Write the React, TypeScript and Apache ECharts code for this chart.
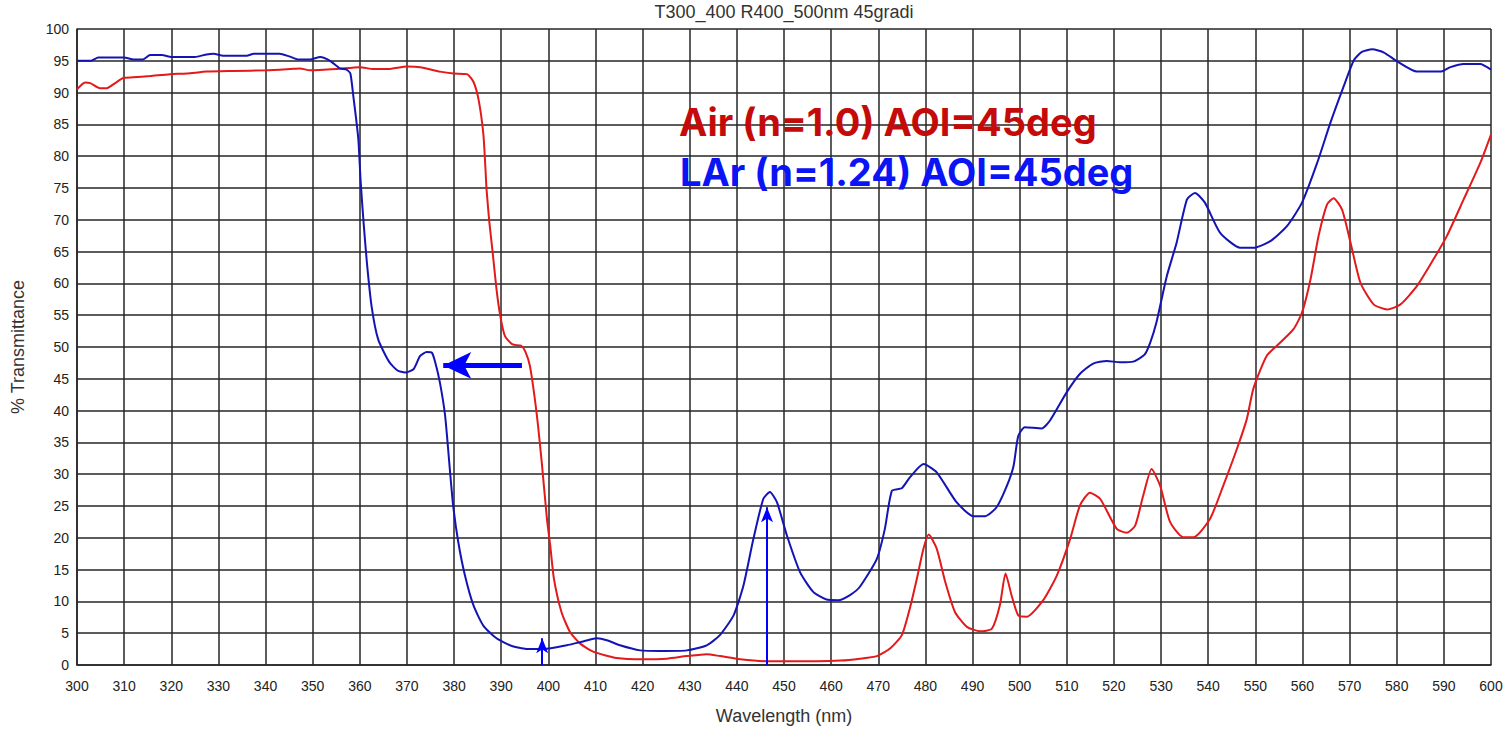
import React, { useEffect, useRef } from "react";
import * as echarts from "echarts";

const TITLE = "T300_400 R400_500nm 45gradi";
const X_NAME = "Wavelength (nm)";
const Y_NAME = "% Transmittance";

const LAR_NM = [
  300, 303, 304.5, 310, 312, 314, 315.5, 318, 320, 325, 327.5, 329, 331, 336, 337.5, 343, 345, 347,
  349.4, 351.6, 353.7, 355.8, 357.2, 358, 358.6, 359.2, 359.7, 360.2, 360.8, 361.5, 362.5, 363.9,
  366.2, 368, 369.6, 371.4, 372.8, 374.2, 375.3, 376, 377, 378.1, 379.1, 379.8, 380.9, 382.3, 384.1,
  386.2, 389, 392.6, 396.1, 399, 403.9, 407.4, 410.3, 412.4, 415.2, 419.5, 423.7, 429.4, 433.6,
  436.4, 439.3, 441.4, 443.5, 445.6, 447, 448.5, 450.6, 453.4, 456.2, 459, 461.5, 464, 466.1, 469.7,
  471.4, 472.9, 475, 476.7, 479.6, 482.4, 486.6, 490.2, 492.7, 495.1, 497.3, 498.7, 499.7, 501.1,
  504.7, 506.4, 510, 512.8, 515.6, 518.5, 521.3, 524.1, 526.5, 527.7, 529, 531.2, 533.3, 535.5,
  537.2, 539.3, 542.5, 546.8, 549.6, 553.1, 556.7, 559.9, 563.1, 565.9, 568.7, 570.9, 572.6, 574.8,
  577.3, 580.1, 584.3, 589.3, 591.4, 594.2, 597.7, 600,
];
const LAR_T = [
  95.0, 95.0, 95.5, 95.5, 95.2, 95.2, 95.9, 95.9, 95.6, 95.6, 96.0, 96.1, 95.8, 95.8, 96.1, 96.1, 95.7,
  95.2, 95.2, 95.6, 95.0, 93.8, 93.6, 93.0, 89.6, 86.0, 82.6, 75.8, 69.6, 63.3, 56.4, 51.2, 47.7, 46.3,
  46.0, 46.5, 48.6, 49.2, 49.1, 47.6, 44.4, 39.2, 30.8, 25.1, 19.3, 14.1, 9.4, 6.2, 4.2, 2.9, 2.5, 2.5,
  3.1, 3.7, 4.2, 3.9, 3.1, 2.3, 2.2, 2.3, 3.1, 4.7, 7.8, 12.5, 19.8, 26.1, 27.2, 25.6, 20.4, 14.6,
  11.5, 10.3, 10.2, 11.0, 12.3, 16.7, 21.4, 27.4, 27.8, 29.5, 31.6, 30.3, 25.6, 23.4, 23.4, 24.8,
  28.2, 31.3, 36.0, 37.4, 37.2, 38.4, 42.9, 45.8, 47.4, 47.8, 47.6, 47.7, 48.8, 50.7, 53.8, 61.1,
  66.4, 73.2, 74.2, 72.7, 68.0, 65.6, 65.6, 66.6, 69.0, 72.7, 78.9, 85.2, 90.9, 95.1, 96.4, 96.8,
  96.3, 94.9, 93.3, 93.3, 94.0, 94.5, 94.5, 93.6,
];

const AIR_NM = [
  300, 301.7, 302.8, 304.9, 306.3, 308.1, 309.8, 311.9, 315.5, 319.7, 323.3, 327.5, 333.2, 340.2,
  345.2, 347.3, 349.4, 355, 360, 362.9, 366, 370, 372.8, 377, 379.9, 382.7, 384.1, 385.2, 386.2,
  386.6, 386.9, 387.5, 388.2, 389.0, 389.8, 390.8, 392.4, 394.2, 395.1, 396.1, 397.5, 398.6, 399.7,
  400.4, 401.2, 402.8, 404.6, 406.7, 409.5, 414.5, 420.2, 425.1, 429.4, 433.6, 436.4, 440.7, 446.3,
  457, 462, 466.1, 469.7, 472.5, 475, 476.7, 478.2, 479.6, 480.7, 482.4, 484.2, 486.3, 488.8, 491.6,
  494.1, 495.8, 497, 498.3, 499.7, 501.5, 505, 507.9, 510.7, 512.8, 514.9, 517.1, 520.6, 522.7,
  524.5, 526.2, 528, 529.8, 531.9, 534.7, 536.9, 540.4, 543.2, 546.1, 548.2, 549.6, 552.4, 555.3,
  558.1, 559.9, 561.7, 563.4, 565.2, 566.6, 568.4, 570.2, 572.3, 575.1, 578, 580.8, 584.3, 587.8,
  590.6, 594.2, 597.7, 600,
];
const AIR_T = [
  90.5, 91.6, 91.5, 90.7, 90.7, 91.5, 92.3, 92.4, 92.6, 92.9, 93.0, 93.3, 93.4, 93.5, 93.7, 93.8,
  93.5, 93.7, 94.0, 93.7, 93.7, 94.1, 94.0, 93.3, 93.0, 92.9, 91.7, 88.9, 83.6, 78.9, 74.7, 69.5,
  64.8, 59.1, 54.9, 51.7, 50.4, 50.2, 49.3, 47.0, 39.7, 31.9, 23.0, 18.8, 13.5, 8.3, 5.2, 3.4, 2.1,
  1.1, 0.9, 1.0, 1.4, 1.7, 1.4, 0.9, 0.6, 0.6, 0.7, 1.0, 1.4, 2.6, 4.7, 8.9, 13.6, 18.3, 20.5, 18.3,
  13.1, 8.3, 6.0, 5.3, 5.7, 9.4, 14.4, 10.9, 7.8, 7.6, 10.2, 14.1, 19.8, 25.1, 27.1, 26.1, 21.4,
  20.8, 21.9, 26.6, 30.8, 28.2, 22.5, 20.1, 20.1, 23.0, 28.2, 34.0, 38.7, 43.5, 48.6, 50.7, 52.8,
  55.4, 60.6, 67.4, 72.4, 73.4, 71.6, 66.4, 60.1, 56.7, 55.9, 56.7, 59.6, 63.8, 67.4, 73.2, 78.9,
  83.4,
];

const LABELS = ["Air (n=1.0) AOI=45deg", "LAr (n=1.24) AOI=45deg"];

// annotation arrows in data coordinates: [x0, y0, x1, y1]
const ARROWS = [
  [394.4, 47.1, 377.7, 47.1],
  [398.7, 0, 398.7, 4.2],
  [446.4, 0, 446.4, 24.8],
];

export default function App() {
  const ref = useRef<HTMLDivElement>(null);
  useEffect(() => {
    if (!ref.current) return;
    const chart = echarts.init(ref.current, null, { renderer: "svg" });
    const grid = "#262626";
    const lar = LAR_NM.map((x, i) => [x, LAR_T[i]]);
    const air = AIR_NM.map((x, i) => [x, AIR_T[i]]);
    const arrowData = ARROWS.map((a, i) => {
      const big = i === 0;
      return [
        { coord: [a[0], a[1]], symbol: "none" },
        {
          coord: [a[2], a[3]],
          symbol: "arrow",
          symbolSize: big ? [20, 28] : [9, 15],
          lineStyle: { width: big ? 5 : 2, color: "#0000ff", type: "solid" },
        },
      ];
    });
    chart.setOption({
      animation: false,
      backgroundColor: "#ffffff",
      title: {
        text: TITLE,
        left: 784,
        textAlign: "center",
        top: 3,
        padding: 0,
        textStyle: { fontFamily: "Liberation Sans", fontSize: 18, fontWeight: "normal", color: "#333" },
      },
      grid: { left: 77, right: 18, top: 29, bottom: 63.5, containLabel: false },
      xAxis: {
        type: "value",
        min: 300,
        max: 600,
        interval: 10,
        name: X_NAME,
        nameLocation: "middle",
        nameGap: 42,
        nameTextStyle: { fontFamily: "Liberation Sans", fontSize: 18, color: "#333" },
        axisLine: { show: true, lineStyle: { color: grid, width: 1.5 } },
        axisTick: { show: false },
        axisLabel: { fontFamily: "Liberation Sans", fontSize: 14, color: "#222", margin: 14 },
        splitLine: { show: true, lineStyle: { color: grid, width: 1.5 } },
      },
      yAxis: {
        type: "value",
        min: 0,
        max: 100,
        interval: 5,
        name: Y_NAME,
        nameLocation: "middle",
        nameGap: 50,
        nameTextStyle: { fontFamily: "Liberation Sans", fontSize: 18, color: "#333" },
        axisLine: { show: true, lineStyle: { color: grid, width: 1.5 } },
        axisTick: { show: false },
        axisLabel: { fontFamily: "Liberation Sans", fontSize: 14, color: "#222", margin: 8 },
        splitLine: { show: true, lineStyle: { color: grid, width: 1.5 } },
      },
      series: [
        {
          type: "line",
          name: LABELS[0],
          data: air,
          showSymbol: false,
          smooth: 0.2,
          lineStyle: { color: "#e3191b", width: 2 },
          z: 3,
        },
        {
          type: "line",
          name: LABELS[1],
          data: lar,
          showSymbol: false,
          smooth: 0.2,
          lineStyle: { color: "#1414b4", width: 2 },
          z: 4,
          markLine: {
            silent: true,
            animation: false,
            label: { show: false },
            symbol: ["none", "arrow"],
            data: arrowData,
          },
        },
      ],
      graphic: [
        {
          type: "text",
          left: 679,
          top: 103,
          style: {
            text: LABELS[0],
            fill: "#c50a0a",
            fontFamily: "Inter",
            fontWeight: 700,
            fontSize: 38,
          },
          z: 10,
        },
        {
          type: "text",
          left: 680,
          top: 153,
          style: {
            text: LABELS[1],
            fill: "#0a14f5",
            fontFamily: "Inter",
            fontWeight: 700,
            fontSize: 38,
          },
          z: 10,
        },
      ],
    });
    return () => chart.dispose();
  }, []);
  return (
    <div
      ref={ref}
      style={{ position: "fixed", left: 0, top: 0, width: 1509, height: 730 }}
    />
  );
}
